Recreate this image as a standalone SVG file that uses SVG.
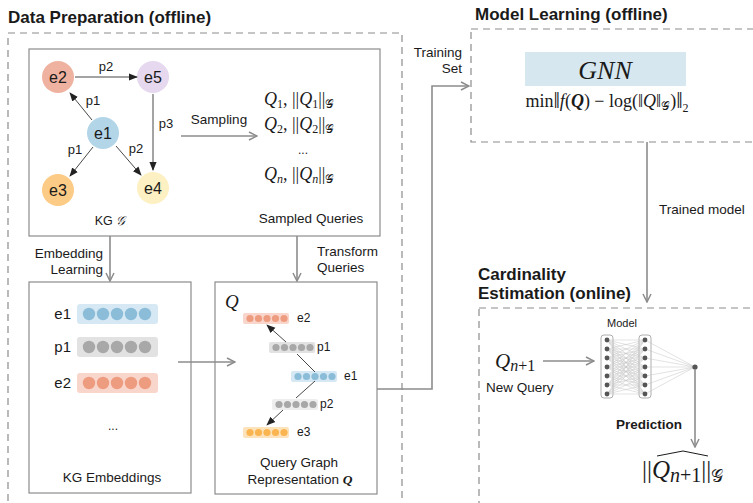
<svg xmlns="http://www.w3.org/2000/svg" width="753" height="503" viewBox="0 0 753 503">
<defs>
<style>
.t{font-family:"Liberation Sans",Arial,sans-serif;fill:#1a1a1a}
.b{font-weight:bold}
.m{font-family:"Liberation Serif","DejaVu Serif",serif;fill:#1a1a1a}
.i{font-style:italic}
.lb{font-size:13.5px}
.dash{fill:none;stroke:#8c8c8c;stroke-width:1.2;stroke-dasharray:7 5}
.box{fill:#fff;stroke:#8c8c8c;stroke-width:1.2}
.con{fill:none;stroke:#8c8c8c;stroke-width:1.6}
.blk{fill:none;stroke:#333;stroke-width:0.9}
.nn{fill:none;stroke:#c4c4c4;stroke-width:0.5}
.dg{fill:#555}
</style>
<marker id="ga" viewBox="0 0 10 10" refX="9" refY="5" markerWidth="10" markerHeight="10" markerUnits="userSpaceOnUse" orient="auto">
<path d="M1,1 L9,5 L1,9" fill="none" stroke="#8c8c8c" stroke-width="1.5"/>
</marker>
<marker id="ba" viewBox="0 0 10 10" refX="9" refY="5" markerWidth="9" markerHeight="9" markerUnits="userSpaceOnUse" orient="auto">
<path d="M0,1 L10,5 L0,9 z" fill="#222"/>
</marker>
</defs>
<rect width="753" height="503" fill="#fff"/>

<!-- section frames -->
<g id="data-preparation">
<rect class="dash" x="8" y="33" width="394" height="500"/>
<text class="t b" x="8" y="23" font-size="17">Data Preparation (offline)</text>
</g>
<g id="model-learning">
<rect class="dash" x="471" y="29" width="300" height="113"/>
<text class="t b" x="475" y="20" font-size="17">Model Learning (offline)</text>
<rect x="525" y="52" width="161" height="34" fill="#d6e7f0"/>
<text class="m i" x="605" y="79" font-size="26" text-anchor="middle">GNN</text>
<text class="m" x="607" y="107" font-size="18" text-anchor="middle">min<tspan font-size="23" dy="1">‖</tspan><tspan font-style="italic" dy="-1">f</tspan>(<tspan font-style="italic" font-weight="bold">Q</tspan>) − log(‖<tspan font-style="italic">Q</tspan>‖<tspan font-size="12" dy="3">𝒢</tspan><tspan dy="-3">)</tspan><tspan font-size="23" dy="1">‖</tspan><tspan font-size="12" dy="4">2</tspan></text>
</g>
<g id="cardinality-estimation">
<rect class="dash" x="479" y="308" width="300" height="250"/>
<text class="t b" x="478" y="280" font-size="17">Cardinality</text>
<text class="t b" x="478" y="299" font-size="17">Estimation (online)</text>
</g>

<!-- KG box -->
<g id="kg">
<rect class="box" x="29" y="49" width="351" height="187"/>
<circle cx="58" cy="77" r="16" fill="#f0b2a0"/>
<circle cx="153" cy="77" r="16" fill="#e5d8ef"/>
<circle cx="103" cy="133" r="16" fill="#b3d5e8"/>
<circle cx="58" cy="190" r="16" fill="#fccb85"/>
<circle cx="153" cy="188" r="16" fill="#fdf0c2"/>
<text class="t" x="58" y="83" font-size="16" text-anchor="middle">e2</text>
<text class="t" x="153" y="83" font-size="16" text-anchor="middle">e5</text>
<text class="t" x="103" y="139" font-size="16" text-anchor="middle">e1</text>
<text class="t" x="58" y="196" font-size="16" text-anchor="middle">e3</text>
<text class="t" x="153" y="194" font-size="16" text-anchor="middle">e4</text>
<path class="blk" d="M75,77 L137,77" marker-end="url(#ba)"/>
<path class="blk" d="M92,120 L70,93" marker-end="url(#ba)"/>
<path class="blk" d="M153,94 L153,170" marker-end="url(#ba)"/>
<path class="blk" d="M93,147 L70,176" marker-end="url(#ba)"/>
<path class="blk" d="M116,146 L141,175" marker-end="url(#ba)"/>
<text class="t" x="106" y="71" font-size="13" text-anchor="middle">p2</text>
<text class="t" x="93" y="105" font-size="13" text-anchor="middle">p1</text>
<text class="t" x="166" y="128" font-size="13" text-anchor="middle">p3</text>
<text class="t" x="75" y="154" font-size="13" text-anchor="middle">p1</text>
<text class="t" x="136" y="153" font-size="13" text-anchor="middle">p2</text>
<text class="t" x="110" y="225" font-size="12.5" text-anchor="middle">KG <tspan class="m i">𝒢</tspan></text>
</g>

<!-- sampled queries -->
<g id="sampled-queries">
<text class="m" x="264" y="105" font-size="18"><tspan font-style="italic">Q</tspan><tspan font-size="12" dy="3">1</tspan><tspan dy="-3">, ||</tspan><tspan font-style="italic">Q</tspan><tspan font-size="12" dy="3">1</tspan><tspan dy="-3">||</tspan><tspan font-size="12" dy="3">𝒢</tspan></text>
<text class="m" x="264" y="130" font-size="18"><tspan font-style="italic">Q</tspan><tspan font-size="12" dy="3">2</tspan><tspan dy="-3">, ||</tspan><tspan font-style="italic">Q</tspan><tspan font-size="12" dy="3">2</tspan><tspan dy="-3">||</tspan><tspan font-size="12" dy="3">𝒢</tspan></text>
<text class="t" x="303" y="154" font-size="12" text-anchor="middle">...</text>
<text class="m" x="264" y="180" font-size="18"><tspan font-style="italic">Q</tspan><tspan font-size="12" dy="3" font-style="italic">n</tspan><tspan dy="-3">, ||</tspan><tspan font-style="italic">Q</tspan><tspan font-size="12" dy="3" font-style="italic">n</tspan><tspan dy="-3">||</tspan><tspan font-size="12" dy="3">𝒢</tspan></text>
<text class="t lb" x="311" y="223" text-anchor="middle">Sampled Queries</text>
</g>

<!-- KG embeddings -->
<g id="kg-embeddings">
<rect class="box" x="29" y="282" width="162" height="211"/>
<text class="t" x="71" y="319" font-size="15" text-anchor="end">e1</text>
<rect x="77" y="304" width="81" height="20" rx="3" fill="#d5e8f3"/>
<g fill="#8bbdd9"><circle cx="89" cy="314" r="6.2"/><circle cx="103" cy="314" r="6.2"/><circle cx="117" cy="314" r="6.2"/><circle cx="131" cy="314" r="6.2"/><circle cx="145" cy="314" r="6.2"/></g>
<text class="t" x="71" y="352" font-size="15" text-anchor="end">p1</text>
<rect x="77" y="337" width="81" height="20" rx="3" fill="#e2e2e2"/>
<g fill="#a8a8a8"><circle cx="89" cy="347" r="6.2"/><circle cx="103" cy="347" r="6.2"/><circle cx="117" cy="347" r="6.2"/><circle cx="131" cy="347" r="6.2"/><circle cx="145" cy="347" r="6.2"/></g>
<text class="t" x="71" y="388" font-size="15" text-anchor="end">e2</text>
<rect x="77" y="373" width="81" height="20" rx="3" fill="#f9d6cb"/>
<g fill="#ee9c80"><circle cx="89" cy="383" r="6.2"/><circle cx="103" cy="383" r="6.2"/><circle cx="117" cy="383" r="6.2"/><circle cx="131" cy="383" r="6.2"/><circle cx="145" cy="383" r="6.2"/></g>
<text class="t" x="113" y="430" font-size="12" text-anchor="middle">...</text>
<text class="t lb" x="112" y="482" text-anchor="middle">KG Embeddings</text>
</g>

<!-- Query graph representation -->
<g id="query-graph">
<rect class="box" x="215" y="282" width="162" height="212"/>
<text class="m i" x="225" y="308" font-size="19">Q</text>
<rect x="243" y="313" width="46" height="11" rx="2" fill="#f9d6cb"/>
<g fill="#ee9c80"><circle cx="250" cy="318.5" r="3.6"/><circle cx="258.5" cy="318.5" r="3.6"/><circle cx="267" cy="318.5" r="3.6"/><circle cx="275.5" cy="318.5" r="3.6"/><circle cx="284" cy="318.5" r="3.6"/></g>
<text class="t" x="297" y="322" font-size="12">e2</text>
<rect x="269" y="342" width="46" height="11" rx="2" fill="#e2e2e2"/>
<g fill="#a8a8a8"><circle cx="276" cy="347.5" r="3.6"/><circle cx="284.5" cy="347.5" r="3.6"/><circle cx="293" cy="347.5" r="3.6"/><circle cx="301.5" cy="347.5" r="3.6"/><circle cx="310" cy="347.5" r="3.6"/></g>
<text class="t" x="317" y="351" font-size="12">p1</text>
<rect x="291" y="371" width="46" height="11" rx="2" fill="#d5e8f3"/>
<g fill="#8bbdd9"><circle cx="298" cy="376.5" r="3.6"/><circle cx="306.5" cy="376.5" r="3.6"/><circle cx="315" cy="376.5" r="3.6"/><circle cx="323.5" cy="376.5" r="3.6"/><circle cx="332" cy="376.5" r="3.6"/></g>
<text class="t" x="344" y="380" font-size="12">e1</text>
<rect x="272" y="399" width="46" height="11" rx="2" fill="#eeeeee"/>
<g fill="#a8a8a8"><circle cx="279" cy="404.5" r="3.6"/><circle cx="287.5" cy="404.5" r="3.6"/><circle cx="296" cy="404.5" r="3.6"/><circle cx="304.5" cy="404.5" r="3.6"/><circle cx="313" cy="404.5" r="3.6"/></g>
<text class="t" x="320" y="408" font-size="12">p2</text>
<rect x="243" y="427" width="46" height="11" rx="2" fill="#fde3bc"/>
<g fill="#fbb550"><circle cx="250" cy="432.5" r="3.6"/><circle cx="258.5" cy="432.5" r="3.6"/><circle cx="267" cy="432.5" r="3.6"/><circle cx="275.5" cy="432.5" r="3.6"/><circle cx="284" cy="432.5" r="3.6"/></g>
<text class="t" x="297" y="436" font-size="12">e3</text>
<path class="blk" stroke-width="0.7" d="M286,342 L267,325" marker-end="url(#ba)"/>
<path class="blk" stroke-width="0.7" d="M315,372 L297,354"/>
<path class="blk" stroke-width="0.7" d="M315,381 L296,398"/>
<path class="blk" stroke-width="0.7" d="M283,410 L267,425" marker-end="url(#ba)"/>
<text class="t lb" x="299" y="467" text-anchor="middle">Query Graph</text>
<text class="t lb" x="300" y="484" text-anchor="middle">Representation <tspan class="m" font-style="italic" font-weight="bold">Q</tspan></text>
</g>

<!-- model -->
<g id="model">
<text class="t" x="622" y="327" font-size="11" text-anchor="middle">Model</text>
<rect x="601" y="335" width="12" height="63" rx="3" fill="#fff" stroke="#999" stroke-width="0.8"/>
<rect x="639" y="335" width="12" height="63" rx="3" fill="#fff" stroke="#999" stroke-width="0.8"/>
<path class="nn" d="M607,340L645,340M607,340L645,349M607,340L645,358M607,340L645,367M607,340L645,376M607,340L645,385M607,340L645,394
M607,349L645,340M607,349L645,349M607,349L645,358M607,349L645,367M607,349L645,376M607,349L645,385M607,349L645,394
M607,358L645,340M607,358L645,349M607,358L645,358M607,358L645,367M607,358L645,376M607,358L645,385M607,358L645,394
M607,367L645,340M607,367L645,349M607,367L645,358M607,367L645,367M607,367L645,376M607,367L645,385M607,367L645,394
M607,376L645,340M607,376L645,349M607,376L645,358M607,376L645,367M607,376L645,376M607,376L645,385M607,376L645,394
M607,385L645,340M607,385L645,349M607,385L645,358M607,385L645,367M607,385L645,376M607,385L645,385M607,385L645,394
M607,394L645,340M607,394L645,349M607,394L645,358M607,394L645,367M607,394L645,376M607,394L645,385M607,394L645,394
M645,340L695,367M645,349L695,367M645,358L695,367M645,367L695,367M645,376L695,367M645,385L695,367M645,394L695,367"/>
<g class="dg"><circle cx="607" cy="340" r="2.4"/><circle cx="607" cy="349" r="2.4"/><circle cx="607" cy="358" r="2.4"/><circle cx="607" cy="367" r="2.4"/><circle cx="607" cy="376" r="2.4"/><circle cx="607" cy="385" r="2.4"/><circle cx="607" cy="394" r="2.4"/>
<circle cx="645" cy="340" r="2.4"/><circle cx="645" cy="349" r="2.4"/><circle cx="645" cy="358" r="2.4"/><circle cx="645" cy="367" r="2.4"/><circle cx="645" cy="376" r="2.4"/><circle cx="645" cy="385" r="2.4"/><circle cx="645" cy="394" r="2.4"/>
<circle cx="695" cy="367" r="2.6"/></g>
</g>

<g id="new-query">
<text class="m" x="495" y="368" font-size="21"><tspan font-style="italic">Q</tspan><tspan font-size="16" dy="3"><tspan font-style="italic">n</tspan>+1</tspan></text>
<text class="t lb" x="486" y="392">New Query</text>
</g>

<g id="prediction-output">
<text class="m" x="642" y="478" font-size="25">||<tspan font-style="italic">Q</tspan><tspan font-size="20" dy="4"><tspan font-style="italic">n</tspan>+1</tspan><tspan dy="-4">||</tspan><tspan font-size="17" dy="4">𝒢</tspan></text>
<path d="M657,456 L683,451 L708,456" fill="none" stroke="#1a1a1a" stroke-width="1"/>
</g>

<!-- connectors -->
<g id="connectors">
<path class="con" d="M181,136 L257,136" marker-end="url(#ga)"/>
<path class="con" d="M110,236 L110,281" marker-end="url(#ga)"/>
<path class="con" d="M297,236 L297,281" marker-end="url(#ga)"/>
<path class="con" d="M178,362 L235,362" marker-end="url(#ga)"/>
<path class="con" d="M377,389 L432,389 L432,86 L469,86" marker-end="url(#ga)"/>
<path class="con" d="M647,142 L647,302" marker-end="url(#ga)"/>
<path class="con" d="M543,361 L594,361" marker-end="url(#ga)"/>
<path class="con" d="M695,369 L695,447" marker-end="url(#ga)"/>
<text class="t lb" x="219" y="124" text-anchor="middle">Sampling</text>
<text class="t lb" x="103" y="258" text-anchor="end">Embedding</text>
<text class="t lb" x="103" y="274" text-anchor="end">Learning</text>
<text class="t lb" x="317" y="256" >Transform</text>
<text class="t lb" x="317" y="272">Queries</text>
<text class="t lb" x="462" y="57" text-anchor="end">Training</text>
<text class="t lb" x="462" y="73" text-anchor="end">Set</text>
<text class="t lb" x="659" y="214">Trained model</text>
<text class="t b lb" x="682" y="429" text-anchor="end">Prediction</text>
</g>
</svg>
